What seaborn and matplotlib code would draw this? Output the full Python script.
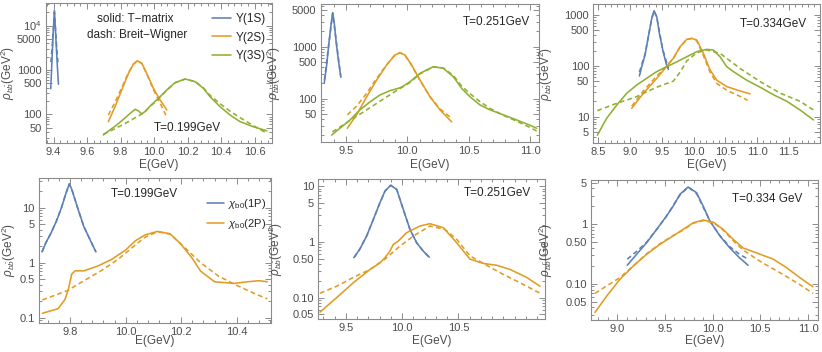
import numpy as np
import pandas as pd
import matplotlib
matplotlib.use('Agg')
import matplotlib.pyplot as plt
import seaborn as sns
from matplotlib.ticker import LogLocator, NullFormatter, AutoMinorLocator
from matplotlib.lines import Line2D

# ---- data (E in GeV, rho in GeV^2) ----
# top row: S-wave, T = 0.199 / 0.251 / 0.334 GeV
a_1s_E = [9.383, 9.390, 9.398, 9.405, 9.412, 9.420, 9.429]
a_1s_sol = [380, 1500, 7000, 22000, 7000, 1800, 480]
a_1s_dE = [9.384, 9.392, 9.398, 9.405, 9.412, 9.418, 9.426]
a_1s_dash = [1500, 3500, 8000, 20000, 8000, 3500, 1500]
a_2s_E = [9.727, 9.767, 9.807, 9.847, 9.876, 9.900, 9.927, 9.956, 9.996, 10.036, 10.076]
a_2s_sol = [69, 150, 356, 841, 1340, 1620, 1410, 841, 388, 212, 126]
a_2s_dE = [9.727, 9.767, 9.807, 9.847, 9.876, 9.900, 9.927, 9.956, 9.996, 10.036, 10.070]
a_2s_dash = [97, 190, 400, 870, 1350, 1620, 1400, 820, 360, 180, 97]
a_3s_E = [9.697, 9.737, 9.777, 9.817, 9.857, 9.887, 9.907, 9.927, 9.951, 9.976, 10.026,
          10.076, 10.125, 10.185, 10.245, 10.294, 10.334, 10.394, 10.454, 10.513, 10.593, 10.673]
a_3s_sol = [34.6, 45, 58, 78, 106, 131, 120, 103, 120, 155, 231,
            356, 519, 628, 547, 388, 251, 150, 97, 69, 53, 43]
a_3s_dE = [9.697, 9.757, 9.817, 9.877, 9.927, 9.976, 10.026, 10.076, 10.125, 10.185,
           10.245, 10.294, 10.334, 10.394, 10.454, 10.513, 10.593, 10.673]
a_3s_dash = [36, 46, 60, 80, 103, 150, 225, 350, 515, 625, 550, 400, 270, 175, 118, 85, 56, 38]

b_1s_E = [9.323, 9.343, 9.361, 9.378, 9.392, 9.405, 9.421, 9.440, 9.459]
b_1s_sol = [198, 444, 1160, 2610, 4510, 2820, 1160, 515, 258]
b_1s_dE = [9.325, 9.360, 9.392, 9.425, 9.457]
b_1s_dash = [230, 1100, 4400, 1100, 270]
b_2s_E = [9.511, 9.587, 9.669, 9.750, 9.832, 9.899, 9.940, 9.981, 10.035, 10.103, 10.185, 10.266, 10.361]
b_2s_sol = [27, 49, 109, 229, 445, 692, 767, 692, 445, 229, 109, 61, 36]
b_2s_dash = [49, 72, 127, 245, 450, 690, 760, 690, 440, 225, 110, 64, 42]
b_3s_E = [9.383, 9.451, 9.533, 9.614, 9.696, 9.777, 9.859, 9.926, 9.960, 10.022, 10.103,
          10.211, 10.293, 10.375, 10.443, 10.511, 10.592, 10.674, 10.782, 10.891, 10.999, 11.054]
b_3s_sol = [20, 27, 39, 61, 87, 118, 143, 158, 170, 212, 307,
            412, 385, 265, 158, 109, 76, 61, 49, 39, 31, 27]
b_3s_dE = [9.390, 9.500, 9.600, 9.700, 9.800, 9.926, 10.022, 10.103, 10.211, 10.293,
           10.375, 10.443, 10.511, 10.592, 10.674, 10.782, 10.891, 10.999, 11.054]
b_3s_dash = [23, 34, 48, 68, 97, 150, 205, 300, 410, 390, 280, 175, 125, 88, 65, 48, 37, 28, 24]

c_1s_E = [9.146, 9.183, 9.235, 9.287, 9.341, 9.377, 9.420, 9.461, 9.514, 9.566, 9.602]
c_1s_sol = [63, 96, 163, 374, 861, 1215, 926, 437, 205, 112, 85]
c_1s_dE = [9.146, 9.235, 9.341, 9.377, 9.420, 9.514, 9.602]
c_1s_dash = [75, 170, 850, 1200, 900, 210, 90]
c_2s_E = [9.026, 9.209, 9.393, 9.550, 9.681, 9.787, 9.892, 9.971, 10.050, 10.154, 10.259,
          10.365, 10.522, 10.731, 10.889]
c_2s_sol = [14.6, 28.8, 52, 89, 141, 238, 333, 348, 322, 176, 83, 52, 39, 32, 28]
c_2s_dE = [9.026, 9.209, 9.393, 9.550, 9.681, 9.787, 9.892, 9.971, 10.050, 10.154, 10.259,
           10.365, 10.522, 10.731, 10.850]
c_2s_dash = [16, 32, 58, 92, 141, 235, 330, 345, 310, 160, 75, 45, 33, 25, 21]
c_3s_E = [8.484, 8.632, 8.790, 8.947, 9.105, 9.262, 9.420, 9.577, 9.735, 9.892, 10.050,
          10.207, 10.311, 10.416, 10.522, 10.626, 10.837, 11.046, 11.256, 11.467, 11.676, 11.886]
c_3s_sol = [4.3, 9.3, 16.9, 28.8, 42, 57, 77, 96, 120, 151, 190,
            211, 205, 151, 96, 77, 52, 38, 27, 20, 13.5, 8.6]
c_3s_dE = [8.484, 8.790, 9.078, 9.420, 9.681, 9.787, 9.892, 10.050, 10.207, 10.416,
           10.731, 11.046, 11.362, 11.676, 11.886]
c_3s_dash = [13.1, 18.3, 24, 38, 50, 75, 125, 181, 205, 176, 89, 49, 29, 20, 13.5]

# bottom row: P-wave
d_1p_E = [9.699, 9.713, 9.732, 9.751, 9.769, 9.784, 9.797, 9.806, 9.825, 9.849, 9.874, 9.893]
d_1p_sol = [1.57, 2.31, 3.51, 5.72, 10.0, 17.5, 27, 21.6, 10.7, 4.6, 2.48, 1.57]
d_2p_E = [9.700, 9.757, 9.782, 9.794, 9.806, 9.818, 9.850, 9.900, 9.950, 10.000, 10.035,
          10.070, 10.115, 10.160, 10.198, 10.240, 10.270, 10.320, 10.390, 10.440, 10.480, 10.510]
d_2p_sol = [0.12, 0.146, 0.216, 0.33, 0.62, 0.71, 0.71, 0.87, 1.15, 1.7, 2.5,
            3.2, 3.7, 3.35, 2.2, 1.2, 0.70, 0.45, 0.42, 0.45, 0.47, 0.45]
d_2p_dE = [9.700, 9.790, 9.850, 9.911, 9.973, 10.035, 10.070, 10.115, 10.160, 10.198,
           10.270, 10.332, 10.394, 10.460, 10.510]
d_2p_dash = [0.21, 0.31, 0.47, 0.71, 1.15, 2.1, 2.9, 3.65, 3.3, 2.2, 1.0, 0.58, 0.40, 0.28, 0.22]

e_1p_E = [9.571, 9.625, 9.684, 9.743, 9.802, 9.847, 9.898, 9.951, 10.010, 10.069, 10.129, 10.188, 10.241]
e_1p_sol = [0.52, 0.75, 1.27, 2.5, 5.0, 8.1, 10.3, 8.7, 3.8, 1.67, 0.96, 0.68, 0.53]
e_2p_E = [9.269, 9.417, 9.565, 9.714, 9.802, 9.847, 9.891, 9.921, 9.965, 10.040, 10.158,
          10.247, 10.366, 10.485, 10.603, 10.722, 10.841, 10.960, 11.108, 11.226]
e_2p_sol = [0.055, 0.10, 0.185, 0.32, 0.42, 0.52, 0.68, 0.90, 1.03, 1.46, 1.92,
            2.11, 1.79, 0.96, 0.49, 0.41, 0.38, 0.32, 0.23, 0.16]
e_2p_dE = [9.269, 9.417, 9.565, 9.714, 9.847, 9.965, 10.099, 10.247, 10.381, 10.485,
           10.603, 10.722, 10.900, 11.048, 11.226]
e_2p_dash = [0.12, 0.16, 0.23, 0.32, 0.49, 0.79, 1.27, 1.92, 1.67, 1.11, 0.56, 0.41, 0.26, 0.185, 0.12]

f_1p_E = [9.105, 9.203, 9.308, 9.413, 9.517, 9.587, 9.657, 9.743, 9.831, 9.900, 9.971,
          10.075, 10.180, 10.285, 10.372]
f_1p_sol = [0.205, 0.313, 0.49, 0.82, 1.38, 2.03, 3.19, 4.24, 3.4, 2.03, 1.14, 0.64, 0.40, 0.27, 0.205]
f_1p_dE = [9.105, 9.203, 9.308, 9.413, 9.517, 9.657, 9.743, 9.831, 9.971, 10.075, 10.180, 10.285, 10.372]
f_1p_dash = [0.26, 0.35, 0.50, 0.82, 1.38, 3.1, 4.2, 3.3, 1.14, 0.65, 0.42, 0.31, 0.26]
f_2p_E = [8.766, 8.889, 9.028, 9.168, 9.308, 9.447, 9.587, 9.691, 9.796, 9.900, 10.005,
          10.110, 10.215, 10.319, 10.460, 10.634, 10.774, 10.913, 11.052]
f_2p_sol = [0.033, 0.062, 0.119, 0.199, 0.313, 0.46, 0.64, 0.82, 1.06, 1.18, 1.09,
            0.82, 0.56, 0.40, 0.33, 0.26, 0.187, 0.127, 0.089]
f_2p_dE = [8.766, 9.028, 9.168, 9.308, 9.447, 9.587, 9.691, 9.796, 9.900, 10.005, 10.110,
           10.215, 10.319, 10.494, 10.704, 10.900, 11.052]
f_2p_dash = [0.069, 0.127, 0.199, 0.32, 0.47, 0.65, 0.80, 1.04, 1.15, 1.07, 0.80,
             0.53, 0.37, 0.24, 0.154, 0.10, 0.069]

temps = ['T=0.199GeV', 'T=0.251GeV', 'T=0.334GeV', 'T=0.199GeV', 'T=0.251GeV', 'T=0.334 GeV']
s_labels = ['\u03a5(1S)', '\u03a5(2S)', '\u03a5(3S)']
p_labels = [r'$\chi_{\mathrm{b0}}$(1P)', r'$\chi_{\mathrm{b0}}$(2P)']

palette = {'1S': '#5E81B5', '2S': '#E19C24', '3S': '#8FB032',
           '1P': '#5E81B5', '2P': '#E19C24'}

sns.set_style('ticks')
plt.rcParams['font.family'] = ['Liberation Sans', 'DejaVu Sans']
plt.rcParams['mathtext.fontset'] = 'custom'
plt.rcParams['mathtext.rm'] = 'Liberation Sans'
plt.rcParams['mathtext.it'] = 'Liberation Sans:italic'
plt.rcParams['mathtext.bf'] = 'Liberation Sans:bold'

FRAME = '#8c8c8c'
TICKTXT = '#4d4d4d'


def draw(ax, curves):
    parts = []
    for state, kind, e, r in curves:
        parts.append(pd.DataFrame({'E': e, 'rho': r, 'state': state, 'kind': kind}))
    df = pd.concat(parts, ignore_index=True)
    sns.lineplot(data=df, x='E', y='rho', hue='state', style='kind', palette=palette,
                 style_order=['solid', 'dash'], dashes={'solid': '', 'dash': (3, 2)},
                 errorbar=None, lw=1.15, legend=False, ax=ax)


def style(ax, xlim, ylim, xticks, yticks, ylabels, ylab_x, xlab_y):
    ax.set_yscale('log')
    ax.set_xlim(*xlim)
    ax.set_ylim(*ylim)
    ax.set_xticks(xticks, ['%.1f' % v for v in xticks])
    ax.set_yticks(yticks, ylabels)
    ax.yaxis.set_minor_locator(LogLocator(base=10, subs=np.arange(2, 10), numticks=30))
    ax.yaxis.set_minor_formatter(NullFormatter())
    ax.xaxis.set_minor_locator(AutoMinorLocator(5))
    ax.tick_params(which='both', direction='in', top=True, right=True,
                   color=FRAME, labelcolor=TICKTXT, labelsize=8, width=0.7, pad=3)
    ax.tick_params(which='major', length=4)
    ax.tick_params(which='minor', length=2)
    for sp in ax.spines.values():
        sp.set_color(FRAME)
        sp.set_linewidth(0.8)
    ax.set_xlabel('E(GeV)', fontsize=8.5, color=TICKTXT)
    ax.set_ylabel(r'$\rho_{b\bar{b}}$(GeV$^2$)', fontsize=8.5, color=TICKTXT)
    ax.yaxis.set_label_coords(ylab_x, 0.5)
    ax.xaxis.set_label_coords(0.5, xlab_y)


fig = plt.figure(figsize=(8.22, 3.52), dpi=100)
rects = [[0.0556, 0.5929, 0.2753, 0.3977], [0.3901, 0.5974, 0.2659, 0.3912],
         [0.7218, 0.5929, 0.2758, 0.3957], [0.0474, 0.0832, 0.2822, 0.4119],
         [0.3872, 0.0946, 0.2758, 0.3977], [0.7190, 0.0909, 0.2762, 0.3977]]
axes = [fig.add_axes(r) for r in rects]

draw(axes[0], [('1S', 'solid', a_1s_E, a_1s_sol), ('1S', 'dash', a_1s_dE, a_1s_dash),
               ('2S', 'solid', a_2s_E, a_2s_sol), ('2S', 'dash', a_2s_dE, a_2s_dash),
               ('3S', 'solid', a_3s_E, a_3s_sol), ('3S', 'dash', a_3s_dE, a_3s_dash)])
draw(axes[1], [('1S', 'solid', b_1s_E, b_1s_sol), ('1S', 'dash', b_1s_dE, b_1s_dash),
               ('2S', 'solid', b_2s_E, b_2s_sol), ('2S', 'dash', b_2s_E, b_2s_dash),
               ('3S', 'solid', b_3s_E, b_3s_sol), ('3S', 'dash', b_3s_dE, b_3s_dash)])
draw(axes[2], [('1S', 'solid', c_1s_E, c_1s_sol), ('1S', 'dash', c_1s_dE, c_1s_dash),
               ('2S', 'solid', c_2s_E, c_2s_sol), ('2S', 'dash', c_2s_dE, c_2s_dash),
               ('3S', 'solid', c_3s_E, c_3s_sol), ('3S', 'dash', c_3s_dE, c_3s_dash)])
draw(axes[3], [('1P', 'solid', d_1p_E, d_1p_sol), ('1P', 'dash', d_1p_E, d_1p_sol),
               ('2P', 'solid', d_2p_E, d_2p_sol), ('2P', 'dash', d_2p_dE, d_2p_dash)])
draw(axes[4], [('1P', 'solid', e_1p_E, e_1p_sol), ('1P', 'dash', e_1p_E, e_1p_sol),
               ('2P', 'solid', e_2p_E, e_2p_sol), ('2P', 'dash', e_2p_dE, e_2p_dash)])
draw(axes[5], [('1P', 'solid', f_1p_E, f_1p_sol), ('1P', 'dash', f_1p_dE, f_1p_dash),
               ('2P', 'solid', f_2p_E, f_2p_sol), ('2P', 'dash', f_2p_dE, f_2p_dash)])

style(axes[0], (9.353, 10.704), (22.5, 31600), [9.4, 9.6, 9.8, 10.0, 10.2, 10.4, 10.6],
      [50, 100, 500, 1000, 5000, 1e4], ['50', '100', '500', '1000', '5000', r'$10^4$'], -0.125, -0.112)
style(axes[1], (9.294, 11.075), (14.9, 6620), [9.5, 10.0, 10.5, 11.0],
      [50, 100, 500, 1000, 5000], ['50', '100', '500', '1000', '5000'], -0.172, -0.126)
style(axes[2], (8.421, 11.99), (2.98, 1650), [8.5, 9.0, 9.5, 10.0, 10.5, 11.0, 11.5],
      [5, 10, 50, 100, 500, 1000], ['5', '10', '50', '100', '500', '1000'], -0.169, -0.112)
style(axes[3], (9.688, 10.523), (0.081, 35), [9.8, 10.0, 10.2, 10.4],
      [0.1, 0.5, 1, 5, 10], ['0.1', '0.5', '1', '5', '10'], -0.092, -0.085)
style(axes[4], (9.254, 11.27), (0.042, 13.5), [9.5, 10.0, 10.5],
      [0.05, 0.1, 0.5, 1, 5, 10], ['0.05', '0.10', '0.50', '1', '5', '10'], -0.147, -0.116)
style(axes[5], (8.725, 11.105), (0.0246, 5.55), [9.0, 9.5, 10.0, 10.5, 11.0],
      [0.05, 0.1, 0.5, 1, 5], ['0.05', '0.10', '0.50', '1', '5'], -0.159, -0.107)

# annotations
txt_pos = [(0.627, 0.107), (0.806, 0.871), (0.793, 0.856), (0.453, 0.888), (0.788, 0.90), (0.775, 0.864)]
for ax, t, (tx, ty) in zip(axes, temps, txt_pos):
    ax.text(tx, ty, t, transform=ax.transAxes, ha='center', va='center', fontsize=8.5)
axes[0].text(0.395, 0.886, 'solid: T\u2212matrix', transform=axes[0].transAxes,
             ha='center', va='center', fontsize=8.5)
axes[0].text(0.406, 0.774, 'dash: Breit\u2212Wigner', transform=axes[0].transAxes,
             ha='center', va='center', fontsize=8.5)

h_s = [Line2D([], [], color=palette[k], lw=1.15) for k in ['1S', '2S', '3S']]
axes[0].legend(h_s, s_labels, loc='upper left', bbox_to_anchor=(0.735, 0.93), frameon=False,
               fontsize=8.5, handlelength=1.6, handletextpad=0.4, labelspacing=0.55,
               borderpad=0, borderaxespad=0)
h_p = [Line2D([], [], color=palette[k], lw=1.15) for k in ['1P', '2P']]
axes[3].legend(h_p, p_labels, loc='upper left', bbox_to_anchor=(0.725, 0.87), frameon=False,
               fontsize=8, handlelength=1.5, handletextpad=0.35, labelspacing=0.6,
               borderpad=0, borderaxespad=0)

fig.savefig('out.png', dpi=100)
